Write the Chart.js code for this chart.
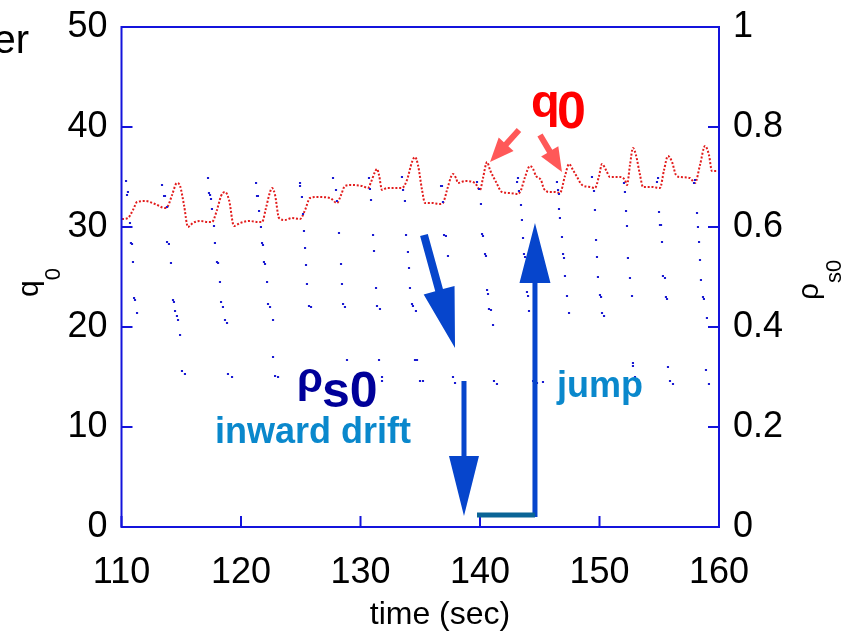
<!DOCTYPE html>
<html>
<head>
<meta charset="utf-8">
<script src="https://cdn.jsdelivr.net/npm/chart.js@4.4.0/dist/chart.umd.min.js"></script>
<style>
html, body { margin: 0; padding: 0; background: #fff; }
#wrap { width: 859px; height: 635px; position: relative; }
</style>
</head>
<body>
<div id="wrap"><canvas id="chart" width="859" height="635"></canvas></div>
<script>
// q0 trace (left axis)
var qTime = [110.04,110.54,110.96,111.30,111.97,112.80,113.64,113.89,114.23,114.64,114.90,115.23,115.56,115.98,116.57,117.24,117.57,117.99,118.33,118.66,119.00,119.41,119.92,120.75,121.42,121.76,122.09,122.43,122.59,122.85,123.18,123.68,124.27,124.94,125.36,125.77,126.44,127.45,128.03,128.37,128.70,129.29,130.13,130.63,130.88,131.21,131.38,131.55,131.80,132.22,132.89,133.47,133.89,134.31,134.56,134.81,135.15,135.40,135.98,136.65,136.90,137.24,137.57,137.74,137.99,138.16,138.74,139.58,140.00,140.25,140.59,140.84,141.34,141.84,142.51,143.18,143.43,143.77,144.18,144.44,144.69,145.10,145.36,145.86,146.28,146.69,147.11,147.45,147.78,148.12,148.54,149.21,149.62,149.96,150.21,150.54,150.88,151.72,152.13,152.30,152.55,152.80,153.05,153.39,153.64,154.39,155.06,155.40,155.73,156.07,156.40,156.74,157.57,157.99,158.41,158.83,159.16,159.41,159.92];
var qVal = [30.8,30.9,31.7,32.5,32.6,32.3,31.9,32.1,33.2,34.4,34.1,32.2,30.0,30.4,30.6,30.5,30.5,31.7,33.1,33.5,32.7,30.1,30.4,30.6,30.5,30.5,31.9,33.5,33.9,33.2,30.9,30.7,30.9,30.8,31.7,32.9,33.0,32.9,32.4,33.2,34.1,34.2,34.1,33.9,34.5,35.5,35.8,35.2,33.7,33.9,33.9,33.9,34.7,36.5,37.0,36.2,33.7,32.4,32.4,32.3,32.4,33.7,35.0,35.3,34.9,34.4,34.6,34.4,33.7,34.9,36.5,35.7,34.5,33.5,33.4,33.3,33.7,35.0,36.1,35.8,35.1,34.7,33.8,33.5,33.5,33.4,35.1,36.3,35.7,35.0,34.2,34.0,33.9,35.1,36.3,35.7,35.0,35.0,34.7,34.2,36.2,37.9,37.2,35.2,34.0,34.0,33.9,35.7,37.1,36.5,35.2,35.0,34.9,34.4,36.2,38.1,37.2,35.6,35.6];

// rho_s0 samples (right axis)
var rhoTime = [110.38,110.46,110.54,110.71,110.79,110.88,110.96,111.05,111.13,111.30,
  113.39,113.56,113.64,113.81,113.81,113.97,114.14,114.31,114.39,114.48,114.64,114.73,114.90,115.06,115.31,
  117.24,117.32,117.41,117.49,117.57,117.74,117.82,117.99,118.08,118.24,118.33,118.49,118.66,118.83,118.91,119.25,
  121.26,121.34,121.42,121.51,121.67,121.76,121.84,121.92,122.01,122.18,122.26,122.43,122.68,122.68,122.85,123.10,
  124.94,124.94,125.10,125.19,125.27,125.36,125.44,125.52,125.69,125.86,
  127.70,127.95,128.03,128.20,128.37,128.45,128.54,128.70,128.87,
  130.71,130.79,130.88,131.05,131.13,131.30,131.38,131.63,131.55,131.80,131.80,
  133.47,133.56,133.72,133.81,133.97,134.06,134.14,134.31,134.39,134.64,134.56,134.73,134.98,135.23,
  136.74,136.82,136.90,136.99,137.15,137.32,137.74,137.91,
  139.75,139.92,140.08,140.17,140.25,140.42,140.50,140.59,140.67,140.75,140.92,141.09,141.17,141.42,
  143.10,143.18,143.26,143.43,143.51,143.60,143.68,143.77,143.93,144.02,144.10,144.44,144.77,145.27,
  146.44,146.53,146.61,146.61,146.69,146.86,146.95,147.03,147.11,147.28,147.45,
  149.37,149.54,149.62,149.71,149.79,149.87,150.04,150.13,150.21,150.38,
  152.05,152.13,152.22,152.30,152.38,152.55,152.72,152.80,152.80,152.97,
  154.81,154.90,154.98,155.06,155.15,155.23,155.31,155.48,155.56,155.65,155.73,155.90,156.15,
  157.91,157.99,158.16,158.24,158.33,158.41,158.49,158.66,158.74,158.99,158.91,159.16];
var rhoVal = [0.692,0.664,0.670,0.608,0.568,0.566,0.530,0.458,0.454,0.428,
  0.684,0.662,0.662,0.640,0.570,0.566,0.528,0.454,0.450,0.432,0.422,0.414,0.384,0.312,0.306,
  0.698,0.668,0.664,0.656,0.636,0.602,0.568,0.530,0.528,0.490,0.450,0.440,0.414,0.408,0.306,0.300,
  0.688,0.662,0.662,0.632,0.600,0.568,0.564,0.530,0.526,0.490,0.446,0.440,0.414,0.340,0.302,0.300,
  0.688,0.682,0.660,0.626,0.592,0.558,0.524,0.486,0.442,0.440,
  0.698,0.674,0.652,0.588,0.526,0.486,0.446,0.440,0.334,
  0.698,0.676,0.654,0.584,0.552,0.478,0.442,0.436,0.334,0.300,0.292,
  0.700,0.674,0.652,0.584,0.550,0.518,0.478,0.446,0.442,0.432,0.334,0.334,0.292,0.292,
  0.682,0.682,0.650,0.584,0.582,0.542,0.300,0.288,
  0.690,0.676,0.646,0.586,0.582,0.546,0.542,0.474,0.466,0.436,0.434,0.404,0.292,0.286,
  0.690,0.698,0.672,0.644,0.614,0.578,0.546,0.540,0.470,0.462,0.432,0.292,0.288,0.290,
  0.690,0.674,0.666,0.636,0.618,0.580,0.546,0.538,0.502,0.462,0.428,
  0.700,0.672,0.634,0.574,0.540,0.500,0.464,0.460,0.428,0.422,
  0.688,0.670,0.632,0.602,0.538,0.498,0.462,0.328,0.322,0.300,
  0.690,0.698,0.630,0.604,0.604,0.570,0.502,0.498,0.460,0.456,0.320,0.292,0.286,
  0.688,0.694,0.628,0.600,0.570,0.534,0.494,0.460,0.456,0.418,0.314,0.286];

var timeTicks = [110, 120, 130, 140, 150, 160];
var qTicks = [0, 10, 20, 30, 40, 50];
var rhoTicks = [0, 0.2, 0.4, 0.6, 0.8, 1];

// annotation anchors, in data units (time, q0)
var redArrows = [[[143.26, 39.7], [140.84, 36.5]], [[145.02, 39.2], [146.86, 35.5]]];
var driftArrow = [[135.31, 29.2], [137.91, 17.9]];
var dropArrow = [[138.66, 14.6], [138.66, 1.1]];
var jumpBar = [[139.75, 1.2], [144.60, 1.2]];
var jumpArrow = [[144.60, 1.0], [144.60, 30.4]];

var frameColor = "#1414dc";
var font = "'Liberation Sans', Arial, sans-serif";

function arrow(ctx, x1, y1, x2, y2, shaft, headLen, headW, color) {
    var dx = x2 - x1, dy = y2 - y1, len = Math.hypot(dx, dy);
    var ux = dx / len, uy = dy / len, nx = -uy, ny = ux;
    var bx = x2 - ux * headLen, by = y2 - uy * headLen;
    ctx.fillStyle = color;
    ctx.beginPath();
    ctx.moveTo(x1 + nx * shaft / 2, y1 + ny * shaft / 2);
    ctx.lineTo(bx + nx * shaft / 2, by + ny * shaft / 2);
    ctx.lineTo(bx + nx * headW / 2, by + ny * headW / 2);
    ctx.lineTo(x2, y2);
    ctx.lineTo(bx - nx * headW / 2, by - ny * headW / 2);
    ctx.lineTo(bx - nx * shaft / 2, by - ny * shaft / 2);
    ctx.lineTo(x1 - nx * shaft / 2, y1 - ny * shaft / 2);
    ctx.closePath();
    ctx.fill();
}

var decorPlugin = {
    id: "decor",
    afterDraw: function (chart) {
        var ctx = chart.ctx, a = chart.chartArea;
        var xs = chart.scales.x, ys = chart.scales.y, ys1 = chart.scales.y1;
        var X = function (t) { return xs.getPixelForValue(t); };
        var Y = function (q) { return ys.getPixelForValue(q); };
        ctx.save();

        // frame and inward ticks
        ctx.strokeStyle = frameColor;
        ctx.lineWidth = 2;
        ctx.strokeRect(a.left, a.top, a.right - a.left, a.bottom - a.top);
        ctx.beginPath();
        timeTicks.forEach(function (v) { var x = X(v); ctx.moveTo(x, a.bottom); ctx.lineTo(x, a.bottom - 11); });
        qTicks.forEach(function (v) { var y = Y(v); ctx.moveTo(a.left, y); ctx.lineTo(a.left + 11, y); });
        rhoTicks.forEach(function (v) { var y = ys1.getPixelForValue(v); ctx.moveTo(a.right, y); ctx.lineTo(a.right - 11, y); });
        ctx.stroke();

        // arrows
        redArrows.forEach(function (p) {
            arrow(ctx, X(p[0][0]), Y(p[0][1]), X(p[1][0]), Y(p[1][1]), 6, 24, 20, "rgba(255,70,70,0.9)");
        });
        arrow(ctx, X(driftArrow[0][0]), Y(driftArrow[0][1]), X(driftArrow[1][0]), Y(driftArrow[1][1]), 8, 60, 32, "#0645cc");
        arrow(ctx, X(dropArrow[0][0]), Y(dropArrow[0][1]), X(dropArrow[1][0]), Y(dropArrow[1][1]), 5, 60, 30, "#0645cc");
        arrow(ctx, X(jumpArrow[0][0]), Y(jumpArrow[0][1]), X(jumpArrow[1][0]), Y(jumpArrow[1][1]), 5, 60, 31, "#0645cc");
        ctx.strokeStyle = "#0a6496";
        ctx.lineWidth = 5;
        ctx.beginPath();
        ctx.moveTo(X(jumpBar[0][0]), Y(jumpBar[0][1]));
        ctx.lineTo(X(jumpBar[1][0]), Y(jumpBar[1][1]));
        ctx.stroke();

        // in-plot labels
        ctx.textAlign = "left";
        ctx.textBaseline = "alphabetic";
        ctx.fillStyle = "#ff0000";
        ctx.font = "bold 47px " + font;
        ctx.fillText("q", X(144.27), Y(41.0));
        ctx.font = "bold 52px " + font;
        ctx.fillText("0", X(146.44), Y(39.9));

        ctx.fillStyle = "#000099";
        ctx.font = "bold 42px " + font;
        ctx.fillText("\u03c1", X(124.69), Y(13.5));
        ctx.font = "bold 50px " + font;
        ctx.fillText("s0", X(126.78), Y(12.0));

        ctx.fillStyle = "#0a88cc";
        ctx.font = "bold 36px " + font;
        ctx.fillText("inward drift", X(117.82), Y(8.4));
        ctx.fillText("jump", X(146.44), Y(13.0));

        // axis titles
        ctx.fillStyle = "#000";
        ctx.font = "32px " + font;
        ctx.textAlign = "center";
        ctx.fillText("time (sec)", 440, 624);
        ctx.textAlign = "right";
        ctx.font = "40px " + font;
        ctx.fillText("er", 29, 53);
        ctx.textAlign = "left";

        ctx.save();
        ctx.translate(38, 297);
        ctx.rotate(-Math.PI / 2);
        ctx.font = "30px " + font;
        ctx.fillText("q", 0, 0);
        var w = ctx.measureText("q").width;
        ctx.font = "22px " + font;
        ctx.fillText("0", w, 22);
        ctx.restore();

        ctx.save();
        ctx.translate(818, 300);
        ctx.rotate(-Math.PI / 2);
        ctx.font = "30px " + font;
        ctx.fillText("\u03c1", 0, 0);
        w = ctx.measureText("\u03c1").width;
        ctx.font = "22px " + font;
        ctx.fillText("s0", w, 23);
        ctx.restore();

        ctx.restore();
    }
};

var qPoints = qTime.map(function (t, i) { return { x: t, y: qVal[i] }; });
var rhoPoints = rhoTime.map(function (t, i) { return { x: t, y: rhoVal[i] }; });
var tickFont = { family: font, size: 36 };

// fixed axis bands so the plot frame lands where the original has it
function fixWidth(w) {
    return function (s) { s.width = w; s.paddingTop = 0; s.paddingBottom = 0; };
}

var myChart = new Chart(document.getElementById("chart"), {
    type: "scatter",
    data: {
        datasets: [
            { label: "rho_s0", data: rhoPoints, yAxisID: "y1", pointStyle: "rect", pointRadius: 1.5, pointBackgroundColor: "#1a1ad2", pointBorderWidth: 0, showLine: false },
            { label: "q0", data: qPoints, yAxisID: "y", showLine: true, borderColor: "#e21c1c", borderWidth: 2, borderDash: [2, 1.8], pointRadius: 0, cubicInterpolationMode: "monotone" },
        ],
    },
    options: {
        responsive: false,
        animation: false,
        devicePixelRatio: 1,
        layout: { padding: { top: 27, left: 0, right: 0, bottom: 0 } },
        scales: {
            x: {
                type: "linear", min: 110, max: 160,
                grid: { display: false, drawTicks: false }, border: { display: false },
                ticks: { stepSize: 10, autoSkip: false, color: "#000", font: tickFont, padding: 24, maxRotation: 0 },
                afterFit: function (s) { s.height = 108; s.paddingLeft = 0; s.paddingRight = 0; },
            },
            y: {
                type: "linear", position: "left", min: 0, max: 50,
                grid: { display: false, drawTicks: false }, border: { display: false },
                ticks: { stepSize: 10, color: "#000", font: tickFont, padding: 14 },
                afterFit: fixWidth(121.5),
            },
            y1: {
                type: "linear", position: "right", min: 0, max: 1,
                grid: { display: false, drawTicks: false }, border: { display: false },
                ticks: {
                    stepSize: 0.2, color: "#000", font: tickFont, padding: 14,
                    callback: function (v) { return v === 0 ? "0" : v === 1 ? "1" : v.toFixed(1); },
                },
                afterFit: fixWidth(140),
            },
        },
        plugins: { legend: { display: false }, tooltip: { enabled: false } },
    },
    plugins: [decorPlugin],
});
</script>
</body>
</html>
